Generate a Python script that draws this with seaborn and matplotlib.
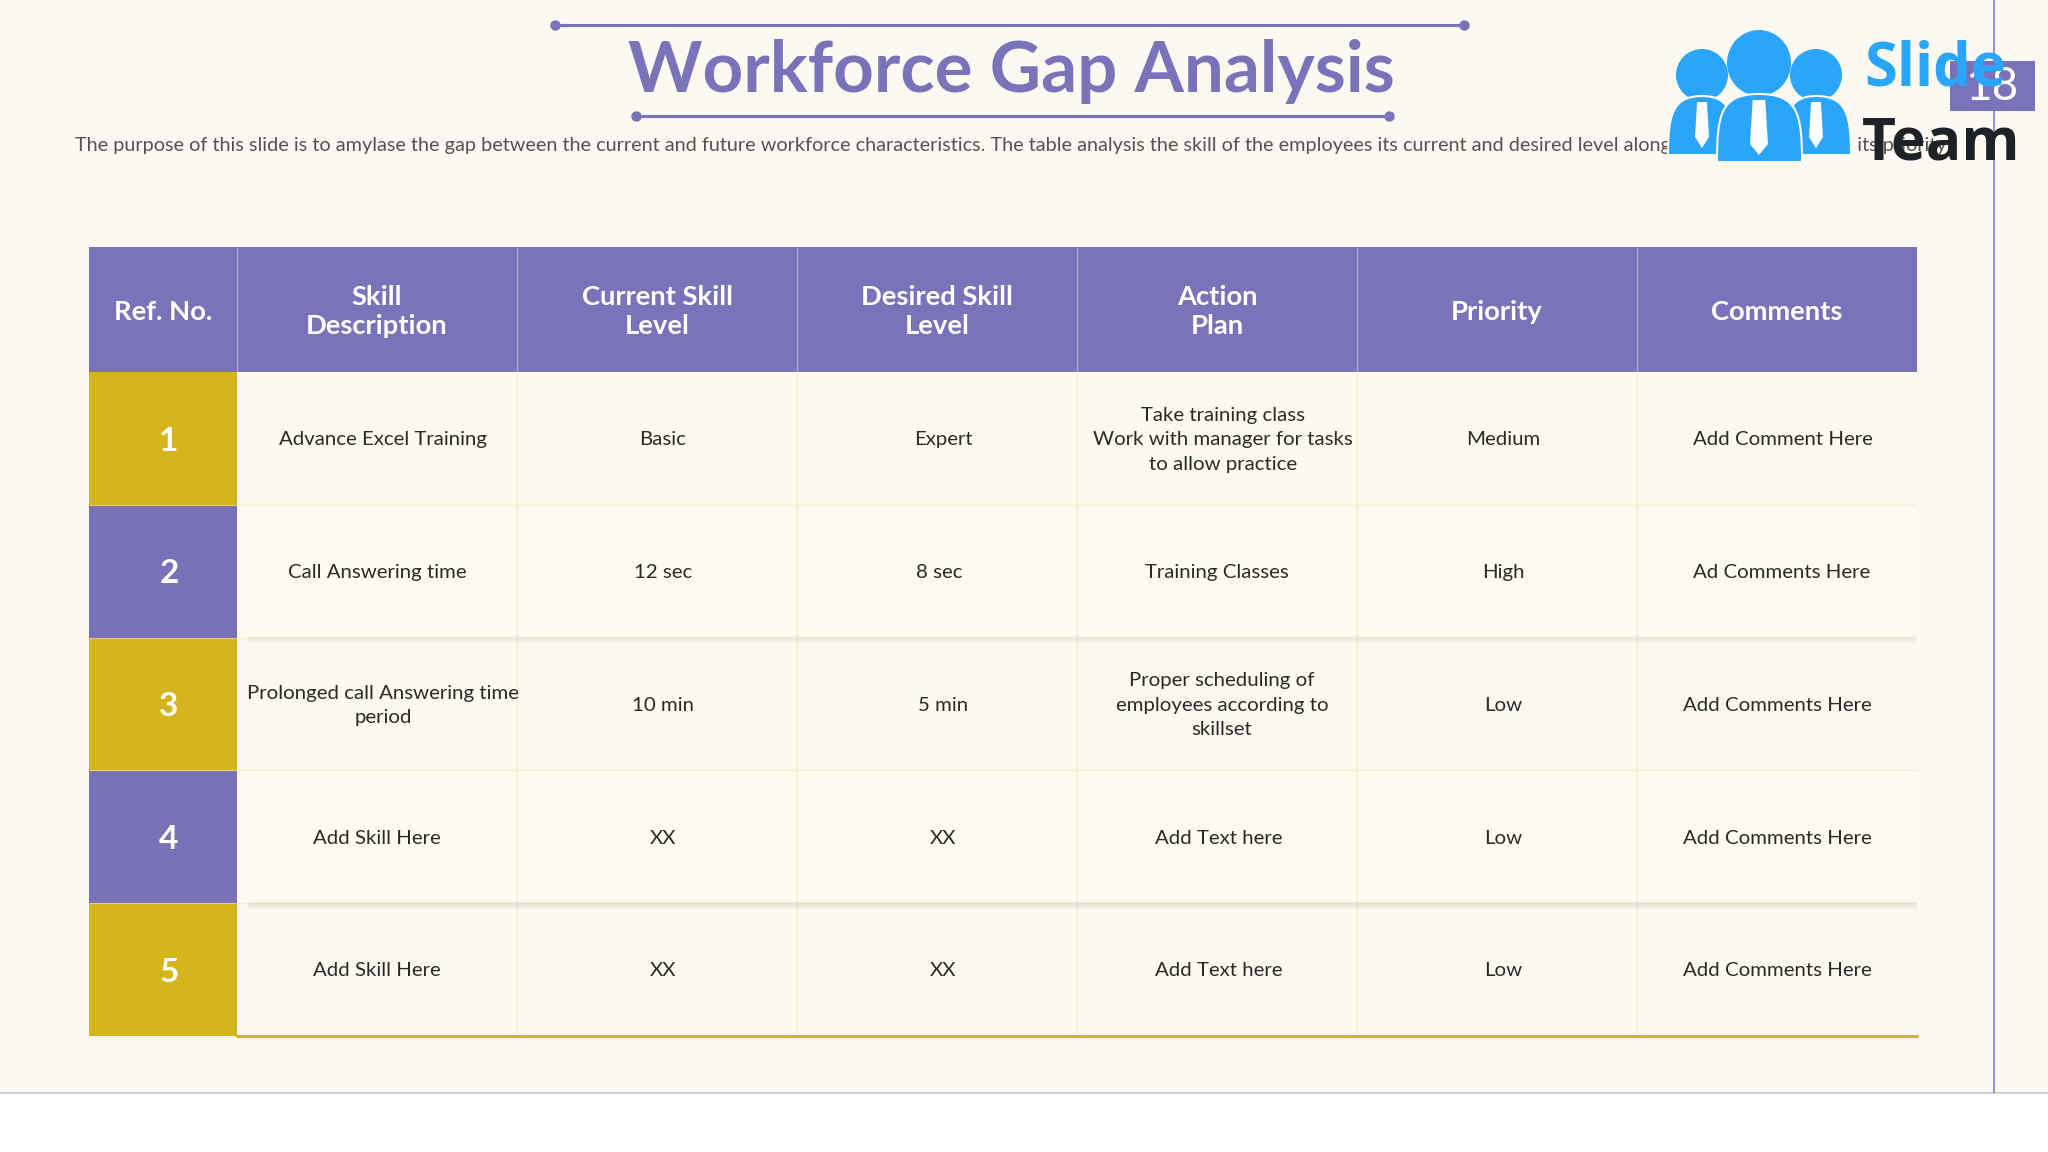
import matplotlib
matplotlib.use("Agg")
import matplotlib.pyplot as plt
import numpy as np
import seaborn as sns
from matplotlib.colors import ListedColormap
from matplotlib.patches import Ellipse, PathPatch, Polygon, Rectangle
from matplotlib.path import Path

# Data
title = "Workforce Gap Analysis"
subtitle = ("The purpose of this slide is to amylase the gap between the current and future workforce "
            "characteristics. The table analysis the skill of the employees its current and desired level "
            "along with action plan and its priority")
headers = ["Ref. No.", "Skill\nDescription", "Current Skill\nLevel", "Desired Skill\nLevel",
           "Action\nPlan", "Priority", "Comments"]
ref_no = ["1", "2", "3", "4", "5"]
skills = ["Advance Excel Training", "Call Answering time", "Prolonged call Answering time\nperiod",
          "Add Skill Here", "Add Skill Here"]
current_level = ["Basic", "12 sec", "10 min", "XX", "XX"]
desired_level = ["Expert", "8 sec", "5 min", "XX", "XX"]
action_plan = ["Take training class\nWork with manager for tasks\nto allow practice", "Training Classes",
               "Proper scheduling of\nemployees according to\nskillset", "Add Text here", "Add Text here"]
priority = ["Medium", "High", "Low", "Low", "Low"]
comments = ["Add Comment Here", "Ad Comments Here", "Add Comments Here", "Add Comments Here", "Add Comments Here"]
page_no = "18"

# Colours
BG = "#FCF9F2"
PURPLE = "#7B73B9"
GOLD = "#D6B51C"
GRID = "#F5F1D0"
INK = "#2A2A26"
BLUE = "#29A5FC"

# Layout in pixels
W, H = 2048, 1152
col_edges = [89, 237, 517, 797, 1077, 1357, 1637, 1917]
row_edges = [372, 505, 637, 770, 903, 1036]
header_top = 247
# small offsets of the text from the cell centre, the slide is not exact
ref_dx = 6
body_dx = [[6, 0, 6, 0, 0], [6, 6, 6, 6, 6], [6, 2, 6, 6, 6],
           [6, 0, 5, 2, 2], [6, 6, 6, 6, 6], [6, 5, 0, 0, 0]]

sns.set_theme(style="white")
plt.rcParams["font.family"] = ["Lato", "DejaVu Sans"]

fig = plt.figure(figsize=(W / 100, H / 100), dpi=100, facecolor="white")


def box_axes(x0, y0, x1, y1):
	return fig.add_axes([x0 / W, 1 - y1 / H, (x1 - x0) / W, (y1 - y0) / H])


page = box_axes(0, 0, W, H)
page.set_xlim(0, W)
page.set_ylim(H, 0)
page.axis("off")
page.add_patch(Rectangle((0, 0), W, 1093, color=BG, lw=0))
page.hlines(1093, 0, W, color="#D3D0DE", lw=1.5)
page.vlines(1994, 0, 1093, color="#8F88CC", lw=1.3)

# title with the two rules
page.plot([555, 1464], [25, 25], color=PURPLE, lw=2.2, marker="o", ms=6.5, markevery=[0, 1])
page.plot([636, 1389], [116, 116], color=PURPLE, lw=2.2, marker="o", ms=6.5, markevery=[0, 1])
page.text(1011, 72, title, color=PURPLE, fontsize=51, fontweight="bold", ha="center", va="center")
page.text(75, 145, subtitle, color="#55534E", fontsize=14.27, ha="left", va="center")

# header row
for i, head in enumerate(headers):
	x0, x1 = col_edges[i], col_edges[i + 1]
	page.add_patch(Rectangle((x0, header_top), x1 - x0, row_edges[0] - header_top, color=PURPLE, lw=0))
	page.text((x0 + x1) / 2, (header_top + row_edges[0]) / 2 + 2, head, color="white", fontsize=19.7,
			  fontweight="bold", ha="center", va="center", linespacing=1.26)
page.vlines(col_edges[1:-1], header_top, row_edges[0], color="#A9A5CC", lw=1)

# Ref. No. column
ref_ax = box_axes(col_edges[0], row_edges[0], col_edges[1], row_edges[-1])
ref_vals = np.array([[i % 2] for i in range(len(ref_no))])
sns.heatmap(ref_vals, ax=ref_ax, cmap=ListedColormap([GOLD, "#7A72B8"]), cbar=False,
			xticklabels=False, yticklabels=False)
ref_ax.hlines(range(1, 5), 0, 1, color="#E6CF7A", lw=0.8)
for i, num in enumerate(ref_no):
	ref_ax.text(0.5 + ref_dx / (col_edges[1] - col_edges[0]), i + 0.52, num, color="white", fontsize=24,
				fontweight="bold", ha="center", va="center")

# body, rows 2 and 4 are the raised ones
body_ax = box_axes(col_edges[1], row_edges[0], col_edges[-1], row_edges[-1])
shade = np.array([[i % 2] * 6 for i in range(5)])
sns.heatmap(shade, ax=body_ax, cmap=ListedColormap(["#FCF9F1", "#FDFAF0"]), cbar=False,
			xticklabels=False, yticklabels=False)
body_ax.vlines(range(1, 6), 0, 5, color=GRID, lw=1.2)
body_ax.hlines(range(1, 5), 0, 6, color=GRID, lw=1)
for row, strength in zip([2, 4], [0.7, 1.0]):
	for k, a in zip([7, 5, 3], [0.025, 0.035, 0.05]):
		body_ax.hlines(row + 0.012, 0.04, 6, color="#6E6A80", lw=k, alpha=a * strength)

columns = [skills, current_level, desired_level, action_plan, priority, comments]
for c, col in enumerate(columns):
	for r, txt in enumerate(col):
		body_ax.text(c + 0.5 + body_dx[c][r] / 280, r + 0.51, txt, color=INK, fontsize=14.7,
					 ha="center", va="center", linespacing=1.53)
body_ax.plot([0, 6], [5, 5], color=GOLD, lw=2.2, clip_on=False)

# page number, logo goes on top of it
page.add_patch(Rectangle((1950, 61), 85, 50, color=PURPLE, lw=0, zorder=5))
page.text(1992, 87, page_no, color="white", fontsize=33, ha="center", va="center", zorder=6)


def person(cx, head_y, head_rx, head_ry, x0, x1, y0, y1, tie_w):
	page.add_patch(Ellipse((cx, head_y), 2 * head_rx, 2 * head_ry, color=BLUE, lw=0, zorder=7))
	top = y0 - 6
	verts = [(x0, y1), (x0, top + 20), (x0 + 4, top), (cx, top), (x1 - 4, top), (x1, top + 20), (x1, y1), (x0, y1)]
	codes = [Path.MOVETO, Path.CURVE4, Path.CURVE4, Path.CURVE4, Path.CURVE4, Path.CURVE4, Path.CURVE4, Path.CLOSEPOLY]
	page.add_patch(PathPatch(Path(verts, codes), fc=BLUE, ec=BG, lw=1.5, zorder=7))
	page.add_patch(Polygon([(cx - tie_w * 0.7, y0), (cx + tie_w * 0.7, y0), (cx + tie_w, y1 - 18),
							(cx, y1 - 7), (cx - tie_w, y1 - 18)], color="white", lw=0, zorder=8))


person(1702, 75, 26, 26, 1668, 1735, 102, 155, 7)
person(1816, 75, 26, 26, 1784, 1851, 102, 155, 7)
person(1759, 63, 32, 33, 1717, 1802, 100, 162, 9)
page.text(1864, 70, "Slide", color=BLUE, fontsize=43, fontweight="bold", family="Open Sans",
		  ha="left", va="center", zorder=9)
page.text(1862, 144, "Team", color="#1E2226", fontsize=42.5, fontweight="bold", family="Open Sans",
		  ha="left", va="center", zorder=9)

fig.savefig("out.png", dpi=100, facecolor="white")
